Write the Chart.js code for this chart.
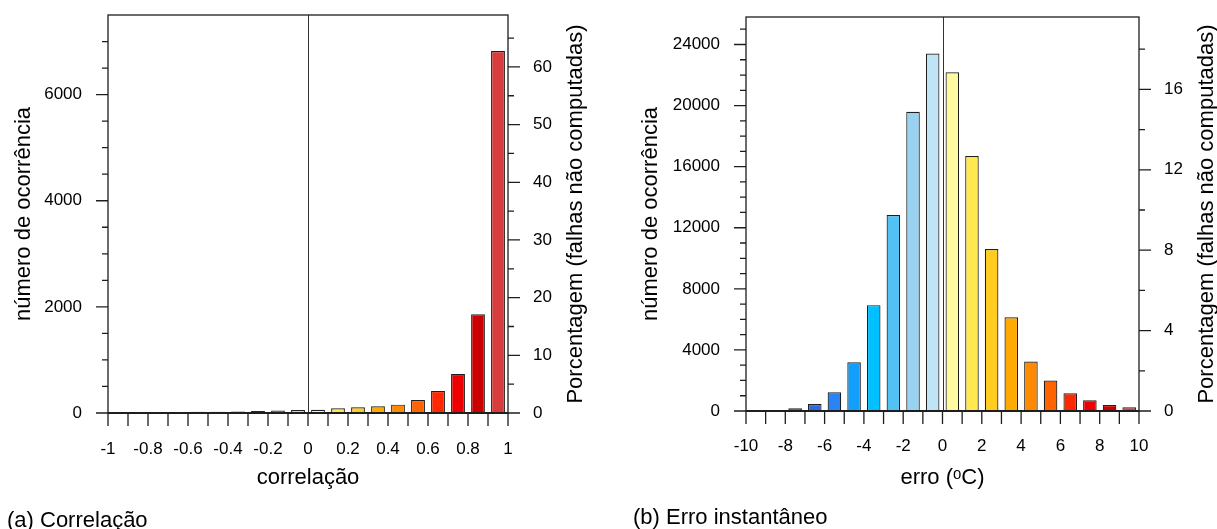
<!DOCTYPE html>
<html>
<head>
<meta charset="utf-8">
<script src="https://cdn.jsdelivr.net/npm/chart.js@4/dist/chart.umd.min.js"></script>
<style>
  html, body { margin: 0; padding: 0; background: #fff; overflow: hidden; }
  body { width: 1217px; height: 529px; position: relative; font-family: "Liberation Sans", Arial, sans-serif; }
  canvas { position: absolute; top: 0; }
  #cA { left: 0; }
  #cB { left: 608px; }
  .cap { position: absolute; font-size: 22px; line-height: 22px; color: #000; white-space: nowrap; }
</style>
</head>
<body>
<canvas id="cA" width="608" height="529"></canvas>
<canvas id="cB" width="609" height="529"></canvas>
<div class="cap" style="left:7px; top:509px;">(a) Correlação</div>
<div class="cap" style="left:633px; top:506px;">(b) Erro instantâneo</div>
<script>
// bin colours (blue -> red), same for both panels
var binColors = ['#d8d8d8', '#141450', '#2038b8', '#3068e0', '#2a84f6', '#12a0ff', '#00c0ff', '#52c2f4', '#98d2f0', '#bee4f6',
                 '#fff9a0', '#ffe850', '#ffcc20', '#ffaa00', '#ff8a00', '#ff6400', '#ff2800', '#ee0000', '#cc0000', '#d83c3c'];

// (a) correlacao
var corrBins = [-0.95, -0.85, -0.75, -0.65, -0.55, -0.45, -0.35, -0.25, -0.15, -0.05,
                0.05, 0.15, 0.25, 0.35, 0.45, 0.55, 0.65, 0.75, 0.85, 0.95];
var corrCounts = [2, 4, 10, 20, 22, 25, 30, 40, 45, 57, 60, 88, 107, 126, 157, 245, 415, 736, 1860, 6820];
var corrXTicks = [-1, -0.8, -0.6, -0.4, -0.2, 0, 0.2, 0.4, 0.6, 0.8, 1];
var corrXLabels = ['-1', '-0.8', '-0.6', '-0.4', '-0.2', '0', '0.2', '0.4', '0.6', '0.8', '1'];
var corrXMarks = [-1, -0.9, -0.8, -0.7, -0.6, -0.5, -0.4, -0.3, -0.2, -0.1, 0, 0.1, 0.2, 0.3, 0.4, 0.5, 0.6, 0.7, 0.8, 0.9, 1];
var corrYTicks = [0, 2000, 4000, 6000];
var corrYMinor = [500, 1000, 1500, 2500, 3000, 3500, 4500, 5000, 5500, 6500, 7000];
var corrPctTicks = [0, 10, 20, 30, 40, 50, 60];
var corrPctMinor = [5, 15, 25, 35, 45, 55, 65];

// (b) erro instantaneo
var errBins = [-9.5, -8.5, -7.5, -6.5, -5.5, -4.5, -3.5, -2.5, -1.5, -0.5,
               0.5, 1.5, 2.5, 3.5, 4.5, 5.5, 6.5, 7.5, 8.5, 9.5];
var errCounts = [30, 60, 175, 460, 1220, 3190, 6930, 12830, 19590, 23410,
                 22180, 16700, 10600, 6140, 3235, 1990, 1160, 700, 390, 240];
var errXTicks = [-10, -8, -6, -4, -2, 0, 2, 4, 6, 8, 10];
var errXLabels = ['-10', '-8', '-6', '-4', '-2', '0', '2', '4', '6', '8', '10'];
var errXMarks = [-10, -9, -8, -7, -6, -5, -4, -3, -2, -1, 0, 1, 2, 3, 4, 5, 6, 7, 8, 9, 10];
var errYTicks = [0, 4000, 8000, 12000, 16000, 20000, 24000];
var errYMinor = [1000, 2000, 3000, 5000, 6000, 7000, 9000, 10000, 11000, 13000, 14000, 15000,
                 17000, 18000, 19000, 21000, 22000, 23000, 25000];
var errPctTicks = [0, 4, 8, 12, 16];
var errPctMinor = [2, 6, 10, 14, 18];

Chart.defaults.font.family = '"Liberation Sans", Arial, sans-serif';
Chart.defaults.color = '#000';

var ink = '#1e1e1e';

// frame, tick marks, zero line and right title
var frameTicks = {
  id: 'frameTicks',
  beforeDatasetsDraw: function(chart) {
    var ctx = chart.ctx, a = chart.chartArea, x0 = chart.scales.x.getPixelForValue(0);
    ctx.save();
    ctx.strokeStyle = '#333';
    ctx.lineWidth = 1;
    ctx.beginPath();
    ctx.moveTo(Math.round(x0) + 0.5, a.top);
    ctx.lineTo(Math.round(x0) + 0.5, a.bottom);
    ctx.stroke();
    ctx.restore();
  },
  afterDraw: function(chart, args, opts) {
    var ctx = chart.ctx, a = chart.chartArea;
    var sx = chart.scales.x, sy = chart.scales.y, sp = chart.scales.pct;
    ctx.save();
    ctx.strokeStyle = ink;
    ctx.lineWidth = 1.3;
    ctx.strokeRect(a.left, a.top, a.right - a.left, a.bottom - a.top);
    ctx.lineWidth = 2;
    ctx.beginPath();
    ctx.moveTo(a.left, a.bottom);
    ctx.lineTo(a.right, a.bottom);
    ctx.stroke();
    ctx.lineWidth = 1.3;
    ctx.beginPath();
    opts.xMarks.forEach(function(v) {
      var p = sx.getPixelForValue(v);
      ctx.moveTo(p, a.bottom); ctx.lineTo(p, a.bottom + 13);
    });
    opts.yTicks.forEach(function(v) {
      var p = sy.getPixelForValue(v);
      ctx.moveTo(a.left - 12, p); ctx.lineTo(a.left, p);
    });
    opts.yMinor.forEach(function(v) {
      var p = sy.getPixelForValue(v);
      ctx.moveTo(a.left - 6, p); ctx.lineTo(a.left, p);
    });
    opts.pTicks.forEach(function(v) {
      var p = sp.getPixelForValue(v);
      ctx.moveTo(a.right, p); ctx.lineTo(a.right + 12, p);
    });
    opts.pMinor.forEach(function(v) {
      var p = sp.getPixelForValue(v);
      ctx.moveTo(a.right, p); ctx.lineTo(a.right + 6, p);
    });
    ctx.stroke();
    // right axis title reads bottom to top
    ctx.translate(sp.left + 68, (a.top + a.bottom) / 2);
    ctx.rotate(-Math.PI / 2);
    ctx.fillStyle = '#000';
    ctx.font = '22px "Liberation Sans", Arial, sans-serif';
    ctx.textAlign = 'center';
    ctx.textBaseline = 'middle';
    ctx.fillText('Porcentagem (falhas não computadas)', 0, 0);
    ctx.restore();
  }
};

function plain(v) { return String(v); }

function makeChart(id, cfg) {
  var data = cfg.bins.map(function(b, i) { return {x: b, y: cfg.counts[i]}; });
  return new Chart(document.getElementById(id), {
    type: 'bar',
    data: {
      datasets: [{
        data: data,
        backgroundColor: binColors,
        borderColor: ink,
        borderWidth: 1.2,
        borderSkipped: 'start',
        categoryPercentage: 1,
        barPercentage: 0.69
      }]
    },
    options: {
      responsive: false,
      animation: false,
      layout: {padding: {top: cfg.top, left: 0, right: 0, bottom: 0}},
      plugins: {
        legend: {display: false},
        tooltip: {enabled: false},
        frameTicks: {xMarks: cfg.xMarks, yTicks: cfg.yTicks, yMinor: cfg.yMinor, pTicks: cfg.pTicks, pMinor: cfg.pMinor}
      },
      scales: {
        x: {
          type: 'linear', position: 'bottom', min: cfg.xMin, max: cfg.xMax, offset: false,
          grid: {display: false, drawTicks: false}, border: {display: false},
          afterBuildTicks: function(s) { s.ticks = cfg.xTicks.map(function(v) { return {value: v}; }); },
          afterFit: function(s) { s.height = cfg.xAxisH; s.paddingLeft = 0; s.paddingRight = 0; },
          ticks: {autoSkip: false, maxRotation: 0, padding: cfg.xPad, font: {size: 17},
                  callback: function(v, i) { return cfg.xLabels[i]; }},
          title: {display: true, text: cfg.xTitle, font: {size: 22}, padding: {top: 0, bottom: 38}}
        },
        y: {
          type: 'linear', position: 'left', min: 0, max: cfg.yMax,
          grid: {display: false, drawTicks: false}, border: {display: false},
          afterBuildTicks: function(s) { s.ticks = cfg.yTicks.map(function(v) { return {value: v}; }); },
          afterFit: function(s) { s.width = cfg.yAxisW; s.paddingTop = 0; s.paddingBottom = 0; },
          ticks: {padding: 26, font: {size: 17}, callback: plain},
          title: {display: true, text: 'número de ocorrência', font: {size: 22}, padding: {top: cfg.yTitlePad, bottom: 0}}
        },
        pct: {
          type: 'linear', position: 'right', display: true, min: 0, max: cfg.pMax,
          grid: {display: false, drawTicks: false}, border: {display: false},
          afterBuildTicks: function(s) { s.ticks = cfg.pTicks.map(function(v) { return {value: v}; }); },
          afterFit: function(s) { s.width = cfg.pAxisW; s.paddingTop = 0; s.paddingBottom = 0; },
          ticks: {padding: 25, font: {size: 17}, callback: plain}
        }
      }
    },
    plugins: [frameTicks]
  });
}

makeChart('cA', {
  bins: corrBins, counts: corrCounts, xMin: -1, xMax: 1,
  xTicks: corrXTicks, xLabels: corrXLabels, xMarks: corrXMarks, xTitle: 'correlação',
  yMax: 7500, yTicks: corrYTicks, yMinor: corrYMinor,
  pMax: 69, pTicks: corrPctTicks, pMinor: corrPctMinor,
  top: 15, xAxisH: 116, yAxisW: 108, pAxisW: 100, xPad: 26, yTitlePad: 11
});

makeChart('cB', {
  bins: errBins, counts: errCounts, xMin: -10, xMax: 10,
  xTicks: errXTicks, xLabels: errXLabels, xMarks: errXMarks, xTitle: 'erro (ᵒC)',
  yMax: 25800, yTicks: errYTicks, yMinor: errYMinor,
  pMax: 19.6, pTicks: errPctTicks, pMinor: errPctMinor,
  top: 17, xAxisH: 118, yAxisW: 138, pAxisW: 78, xPad: 25, yTitlePad: 30
});
</script>
</body>
</html>
